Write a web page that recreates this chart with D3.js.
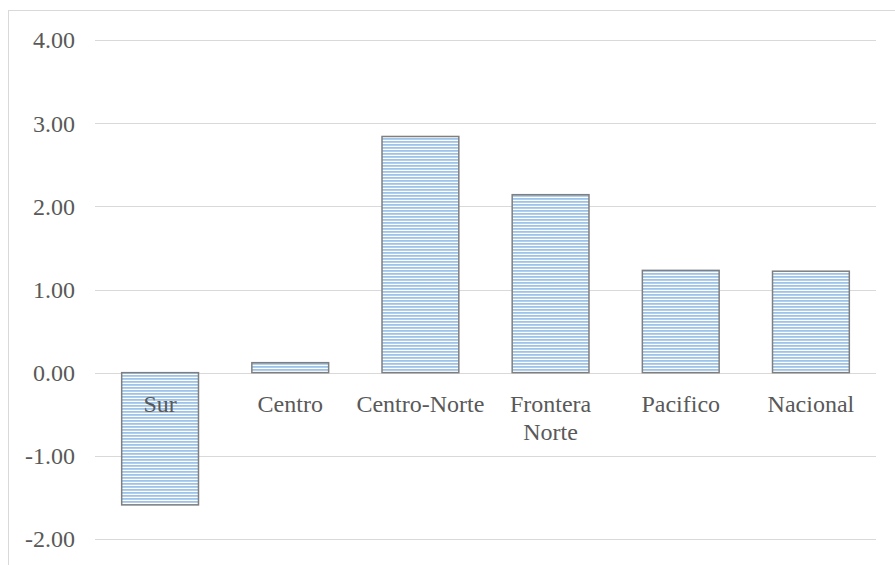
<!DOCTYPE html>
<html>
<head>
<meta charset="utf-8">
<script src="https://cdn.jsdelivr.net/npm/d3@7"></script>
<style>
  html, body { margin: 0; padding: 0; background: #fff; }
  svg { display: block; }
  svg text { font-family: "Liberation Serif", "Times New Roman", Times, "DejaVu Serif", serif; }
</style>
</head>
<body>
<svg id="chart" width="895" height="565"></svg>
<script>
const categories = ["Sur", "Centro", "Centro-Norte", "Frontera Norte", "Pacifico", "Nacional"];
const values = [-1.59, 0.12, 2.84, 2.14, 1.23, 1.22];
const yTicks = [-2, -1, 0, 1, 2, 3, 4];

(function () {
const svg = d3.select("#chart");
const plotLeft = 95, plotRight = 876, plotTop = 40, plotBottom = 539;

// outer chart border (extends beyond view)
svg.append("rect")
  .attr("x", 8.5).attr("y", 10.5)
  .attr("width", 1000).attr("height", 1000)
  .attr("fill", "none").attr("stroke", "#d9d9d9").attr("stroke-width", 1);

const defs = svg.append("defs");
const pat = defs.append("pattern")
  .attr("id", "stripes")
  .attr("patternUnits", "userSpaceOnUse")
  .attr("width", 6).attr("height", 3);
pat.append("rect").attr("x", 0).attr("y", 0).attr("width", 6).attr("height", 3).attr("fill", "#ffffff");
pat.append("rect").attr("x", 0).attr("y", 0).attr("width", 6).attr("height", 1).attr("fill", "#9dc3e6");
pat.append("rect").attr("x", 0).attr("y", 1).attr("width", 6).attr("height", 1).attr("fill", "#b2cfee");

const x = d3.scaleBand().domain(categories).range([plotLeft, plotRight]).paddingInner(0.41).paddingOuter(0.205);
const y = d3.scaleLinear().domain([-2, 4]).range([plotBottom, plotTop]);

// gridlines
svg.append("g").selectAll("line").data(yTicks).join("line")
  .attr("x1", plotLeft).attr("x2", plotRight)
  .attr("y1", d => Math.round(y(d)) + 0.5).attr("y2", d => Math.round(y(d)) + 0.5)
  .attr("stroke", "#d9d9d9").attr("stroke-width", 1);

const fmt = d => d3.format(".2f")(d).replace("\u2212", "-");

// y tick labels
svg.append("g").selectAll("text").data(yTicks).join("text")
  .attr("x", 75).attr("y", d => y(d))
  .attr("dy", "0.35em")
  .attr("text-anchor", "end")
  .attr("font-size", 24)
  .attr("fill", "#595959")
  .text(fmt);

// bars
svg.append("g").selectAll("rect").data(values).join("rect")
  .attr("x", (d, i) => x(categories[i]))
  .attr("width", x.bandwidth())
  .attr("y", d => y(Math.max(0, d)))
  .attr("height", d => Math.abs(y(d) - y(0)))
  .attr("fill", "url(#stripes)")
  .attr("stroke", "#7f7f7f")
  .attr("stroke-width", 1.5);

// category labels
const catG = svg.append("g");
categories.forEach((c, i) => {
  const cx = x(c) + x.bandwidth() / 2;
  const t = catG.append("text")
    .attr("x", cx).attr("y", y(0) + 39)
    .attr("text-anchor", "middle")
    .attr("font-size", 24)
    .attr("fill", "#595959");
  const parts = c === "Frontera Norte" ? ["Frontera", "Norte"] : [c];
  parts.forEach((p, j) => {
    t.append("tspan").attr("x", cx).attr("dy", j === 0 ? 0 : 28).text(p);
  });
});
})();
</script>
</body>
</html>
